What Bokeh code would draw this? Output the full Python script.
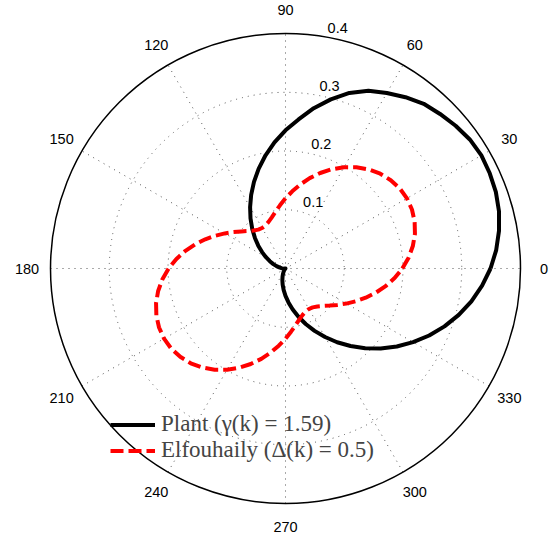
import numpy as np
from bokeh.plotting import figure
from bokeh.models import Legend, LegendItem
from bokeh.embed import file_html
from bokeh.resources import INLINE

# ---- data (angle in degrees, radius) ----
angles_deg = list(range(0, 360, 5))
plant_r = [0.349, 0.360, 0.369, 0.3762, 0.381, 0.3836, 0.385, 0.383, 0.378, 0.372,
           0.366, 0.356, 0.345, 0.334, 0.318, 0.298, 0.277, 0.2547, 0.2352, 0.2155,
           0.1957, 0.1761, 0.1569, 0.1383, 0.1205, 0.1038, 0.0881, 0.0736, 0.0605, 0.0487,
           0.0384, 0.0295, 0.0220, 0.0158, 0.0108, 0.0070, 0.0042, 0.0023, 0.0011, 0.0004,
           0.0001, 0.0000, 0.0000, 0.0001, 0.0003, 0.0009, 0.0020, 0.0038, 0.0064, 0.0100,
           0.0147, 0.0206, 0.0279, 0.0365, 0.0466, 0.0580, 0.0709, 0.0851, 0.1005, 0.1171,
           0.1347, 0.1532, 0.1722, 0.1918, 0.2116, 0.2313, 0.2508, 0.2698, 0.2880, 0.3053,
           0.3213, 0.3359]
elf_r = [0.1989, 0.2103, 0.2201, 0.2281, 0.2339, 0.2375, 0.2387, 0.2375, 0.2339, 0.2281,
         0.2201, 0.2103, 0.1989, 0.1864, 0.1730, 0.1592, 0.1453, 0.1319, 0.1194, 0.1080,
         0.0982, 0.0902, 0.0844, 0.0808, 0.0796, 0.0808, 0.0844, 0.0902, 0.0982, 0.1080,
         0.1194, 0.1319, 0.1453, 0.1592, 0.1730, 0.1864,
         0.1989, 0.2103, 0.2201, 0.2281, 0.2339, 0.2375, 0.2387, 0.2375, 0.2339, 0.2281,
         0.2201, 0.2103, 0.1989, 0.1864, 0.1730, 0.1592, 0.1453, 0.1319, 0.1194, 0.1080,
         0.0982, 0.0902, 0.0844, 0.0808, 0.0796, 0.0808, 0.0844, 0.0902, 0.0982, 0.1080,
         0.1194, 0.1319, 0.1453, 0.1592, 0.1730, 0.1864]
radial_ticks = [0.1, 0.2, 0.3, 0.4]
radial_labels = ["0.1", "0.2", "0.3", "0.4"]
angle_ticks = [0, 30, 60, 90, 120, 150, 180, 210, 240, 270, 300, 330]
angle_labels = [str(a) for a in angle_ticks]
series_names = ["Plant (γ(k) = 1.59)", "Elfouhaily (Δ(k) = 0.5)"]
rmax = 0.4

W, H = 559, 540
cx, cy = 285.0, 268.0
scale = 587.5  # px per unit
p = figure(width=W, height=H, output_backend="svg", toolbar_location=None,
           x_range=(-cx / scale, (W - cx) / scale), y_range=(-(H - cy) / scale, cy / scale),
           x_axis_type=None, y_axis_type=None, min_border=0, outline_line_color=None,
           background_fill_color="white", border_fill_color="white")
p.grid.visible = False

grid_col = "#555555"
# dotted grid circles
p.circle(x=[0] * 3, y=[0] * 3, radius=radial_ticks[:3], fill_color=None,
         line_color=grid_col, line_dash="1 5", line_width=1)
# spokes
sp = np.radians(np.array(angle_ticks[:6], dtype=float))
p.segment(x0=-rmax * np.cos(sp), y0=-rmax * np.sin(sp), x1=rmax * np.cos(sp), y1=rmax * np.sin(sp),
          line_color=grid_col, line_dash="1 5", line_width=1)
# outer circle
p.circle(x=[0], y=[0], radius=[rmax], fill_color=None, line_color="black", line_width=1.5)

# angle labels
at = np.radians(np.array(angle_ticks, dtype=float))
p.text(x=1.1 * rmax * np.cos(at), y=1.1 * rmax * np.sin(at), text=angle_labels,
       text_align="center", text_baseline="middle", text_font_size="14.5px",
       text_font={"value": "Liberation Sans"}, text_color="black")
# radial labels at 82 degrees
c82, s82 = np.cos(np.radians(82)), np.sin(np.radians(82))
rt = np.array(radial_ticks) + 0.1 / 20
p.text(x=rt * c82, y=rt * s82, text=radial_labels, x_offset=9,
       text_align="left", text_baseline="bottom", text_font_size="14.5px",
       text_font={"value": "Liberation Sans"}, text_color="black")

# curves
th = np.radians(np.array(angles_deg + [angles_deg[0]], dtype=float))
pr = np.array(plant_r + [plant_r[0]])
er = np.array(elf_r + [elf_r[0]])
r1 = p.line(pr * np.cos(th), pr * np.sin(th), line_color="black", line_width=4, line_join="round")
r2 = p.line(er * np.cos(th), er * np.sin(th), line_color="red", line_width=4,
            line_dash="13 5", line_join="round")

legend = Legend(items=[LegendItem(label=series_names[0], renderers=[r1]),
                       LegendItem(label=series_names[1], renderers=[r2])],
                location=(110, 77), padding=0, margin=0, spacing=-3,
                glyph_width=45, glyph_height=23, label_height=23, label_standoff=6,
                label_text_font="Liberation Serif", label_text_font_size="23px",
                background_fill_alpha=0, border_line_alpha=0)
p.add_layout(legend, "center")

open("out.html", "w").write(file_html(p, INLINE))
